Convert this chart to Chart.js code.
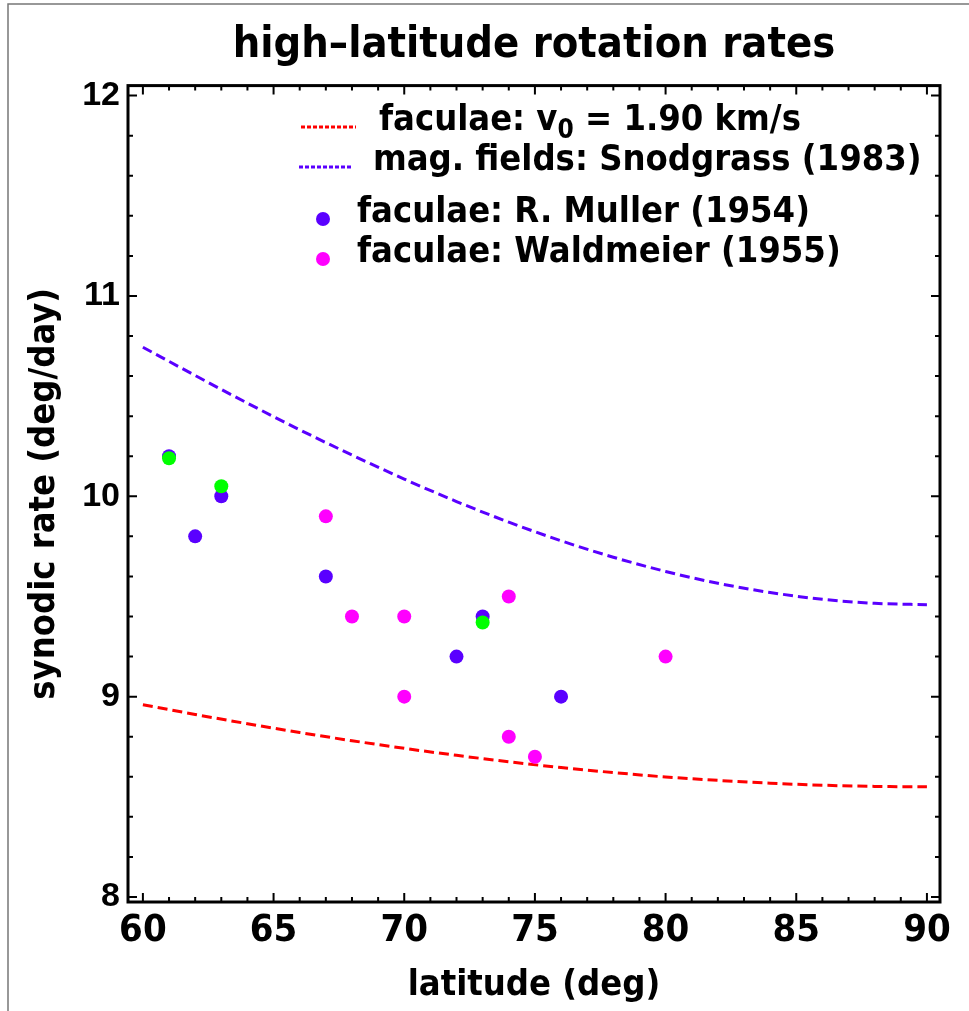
<!DOCTYPE html>
<html>
<head>
<meta charset="utf-8">
<title>high-latitude rotation rates</title>
<script src="https://cdn.jsdelivr.net/npm/chart.js@4.4.1/dist/chart.umd.min.js"></script>
<style>
  html, body { margin: 0; padding: 0; background: #fff; }
  #wrap { width: 969px; height: 1011px; position: relative; }
</style>
</head>
<body>
<div id="wrap"><canvas id="chart" width="969" height="1011"></canvas></div>
<script>
// model curves, every 2 deg of latitude
const curveLat = [60, 62, 64, 66, 68, 70, 72, 74, 76, 78, 80, 82, 84, 86, 88, 90];
const faculaeModel = [8.96, 8.911, 8.865, 8.821, 8.78, 8.742, 8.707, 8.675, 8.646, 8.621, 8.599, 8.582, 8.568, 8.558, 8.552, 8.55];
const snodgrassFields = [10.744, 10.603, 10.465, 10.332, 10.206, 10.086, 9.974, 9.871, 9.778, 9.696, 9.625, 9.566, 9.52, 9.486, 9.466, 9.459];

// observed faculae
const mullerLat = [61, 62, 63, 67, 72, 73, 76];
const mullerRate = [10.2, 9.8, 10.0, 9.6, 9.2, 9.4, 9.0];
const waldmeierLat = [67, 68, 70, 70, 74, 74, 75, 80];
const waldmeierRate = [9.9, 9.4, 9.4, 9.0, 9.5, 8.8, 8.7, 9.2];
const greenLat = [61, 63, 73];
const greenRate = [10.19, 10.05, 9.37];

// axis ticks
const xTickVals = [60, 65, 70, 75, 80, 85, 90];
const yTickVals = [8, 9, 10, 11, 12];

const RED = '#ff0000';
const BLUE = '#5a00ff';
const MAGENTA = '#ff00ff';
const GREEN = '#00ff00';

const NARROW = '"Liberation Sans Narrow", "Arial Narrow", "DejaVu Sans Condensed", sans-serif';
const WIDE = '"Liberation Sans", Arial, sans-serif';

const legendItems = [
  { kind: 'dash', color: RED, parts: ['faculae: v', { sub: '0' }, ' = 1.90 km/s'] },
  { kind: 'dash', color: BLUE, parts: ['mag. fields: Snodgrass (1983)'] },
  { kind: 'dot', color: BLUE, parts: ['faculae: R. Muller (1954)'] },
  { kind: 'dot', color: MAGENTA, parts: ['faculae: Waldmeier (1955)'] }
];

function toPoints(xs, ys) {
  return xs.map((v, i) => ({ x: v, y: ys[i] }));
}

// Mathematica-style frame with inward ticks on all four sides
const framePlugin = {
  id: 'frame',
  afterDatasetsDraw(chart) {
    const { ctx, chartArea: a, scales: { x, y } } = chart;
    ctx.save();
    ctx.strokeStyle = '#000';
    ctx.lineWidth = 2;
    ctx.beginPath();
    for (let v = 60; v <= 90; v++) {
      const px = x.getPixelForValue(v);
      const len = v % 5 === 0 ? 9 : 5;
      ctx.moveTo(px, a.bottom); ctx.lineTo(px, a.bottom - len);
      ctx.moveTo(px, a.top); ctx.lineTo(px, a.top + len);
    }
    for (let i = 0; i <= 20; i++) {
      const py = y.getPixelForValue(8 + i * 0.2);
      const len = i % 5 === 0 ? 9 : 5;
      ctx.moveTo(a.left, py); ctx.lineTo(a.left + len, py);
      ctx.moveTo(a.right, py); ctx.lineTo(a.right - len, py);
    }
    ctx.stroke();
    ctx.lineWidth = 3;
    ctx.strokeRect(a.left, a.top, a.right - a.left, a.bottom - a.top);

    // thin outer border of the picture
    ctx.strokeStyle = '#777';
    ctx.lineWidth = 1.5;
    ctx.beginPath();
    ctx.moveTo(8, chart.height);
    ctx.lineTo(8, 4);
    ctx.lineTo(chart.width, 4);
    ctx.stroke();
    ctx.restore();
  }
};

const legendPlugin = {
  id: 'customLegend',
  afterDraw(chart) {
    const { ctx } = chart;
    const rows = [
      { y: 121, sx: 301, ex: 356, tx: 379 },
      { y: 161, sx: 299, ex: 352, tx: 373 },
      { y: 213, sx: 323, ex: 323, tx: 357 },
      { y: 253, sx: 323, ex: 323, tx: 357 }
    ];
    ctx.save();
    ctx.textBaseline = 'middle';
    legendItems.forEach((item, i) => {
      const r = rows[i];
      if (item.kind === 'dash') {
        ctx.strokeStyle = item.color;
        ctx.lineWidth = 3;
        ctx.setLineDash([4, 2]);
        ctx.beginPath();
        ctx.moveTo(r.sx, r.y + 6);
        ctx.lineTo(r.ex, r.y + 6);
        ctx.stroke();
        ctx.setLineDash([]);
      } else {
        ctx.fillStyle = item.color;
        ctx.beginPath();
        ctx.arc(r.sx, r.y + 6, 7, 0, Math.PI * 2);
        ctx.fill();
      }
      ctx.fillStyle = '#000';
      let cx = r.tx;
      item.parts.forEach(p => {
        if (typeof p === 'string') {
          ctx.font = 'bold 36px ' + NARROW;
          ctx.fillText(p, cx, r.y);
          cx += ctx.measureText(p).width;
        } else {
          ctx.font = 'bold 26px ' + NARROW;
          ctx.fillText(p.sub, cx, r.y + 10);
          cx += ctx.measureText(p.sub).width;
        }
      });
    });
    ctx.restore();
  }
};

const lineStyle = {
  showLine: true,
  pointRadius: 0,
  borderWidth: 3,
  borderDash: [10, 5],
  cubicInterpolationMode: 'monotone',
  fill: false
};

new Chart(document.getElementById('chart'), {
  type: 'scatter',
  data: {
    datasets: [
      { label: 'green', data: toPoints(greenLat, greenRate), backgroundColor: GREEN, borderWidth: 0, pointRadius: 7, order: 0 },
      { label: 'faculae: R. Muller (1954)', data: toPoints(mullerLat, mullerRate), backgroundColor: BLUE, borderWidth: 0, pointRadius: 7, order: 1 },
      { label: 'faculae: Waldmeier (1955)', data: toPoints(waldmeierLat, waldmeierRate), backgroundColor: MAGENTA, borderWidth: 0, pointRadius: 7, order: 2 },
      { label: 'mag. fields: Snodgrass (1983)', data: toPoints(curveLat, snodgrassFields), borderColor: BLUE, ...lineStyle, order: 3 },
      { label: 'faculae: v0 = 1.90 km/s', data: toPoints(curveLat, faculaeModel), borderColor: RED, ...lineStyle, order: 4 }
    ]
  },
  options: {
    responsive: false,
    animation: false,
    devicePixelRatio: 1,
    layout: { padding: { left: 0, right: 29, top: 0, bottom: 0 } },
    plugins: {
      legend: { display: false },
      tooltip: { enabled: false },
      title: {
        display: true,
        fullSize: false,
        text: 'high\u2013latitude rotation rates',
        color: '#000',
        font: { family: NARROW, size: 43, weight: 'bold', lineHeight: 1.2 },
        padding: { top: 20, bottom: 14 }
      }
    },
    scales: {
      x: {
        type: 'linear',
        min: 59.43,
        max: 90.5,
        afterBuildTicks: s => { s.ticks = xTickVals.map(v => ({ value: v })); },
        afterFit: s => { s.height = 109; },
        grid: { display: false, drawTicks: false },
        border: { display: false },
        ticks: {
          color: '#000',
          padding: 6,
          maxRotation: 0,
          font: { family: NARROW, size: 38, weight: 'bold' },
          callback: v => String(v)
        },
        title: {
          display: true,
          text: 'latitude (deg)',
          color: '#000',
          font: { family: NARROW, size: 36, weight: 'bold', lineHeight: 1.2 },
          padding: { top: 0, bottom: 4 }
        }
      },
      y: {
        type: 'linear',
        min: 7.975,
        max: 12.05,
        afterBuildTicks: s => { s.ticks = yTickVals.map(v => ({ value: v })); },
        afterFit: s => { s.width = 128; },
        grid: { display: false, drawTicks: false },
        border: { display: false },
        ticks: {
          color: '#000',
          padding: 8,
          font: { family: WIDE, size: 34, weight: 'bold' },
          callback: v => String(v)
        },
        title: {
          display: true,
          text: 'synodic rate (deg/day)',
          color: '#000',
          font: { family: NARROW, size: 36, weight: 'bold', lineHeight: 1.2 },
          padding: { top: 23, bottom: 0 }
        }
      }
    }
  },
  plugins: [framePlugin, legendPlugin]
});
</script>
</body>
</html>
